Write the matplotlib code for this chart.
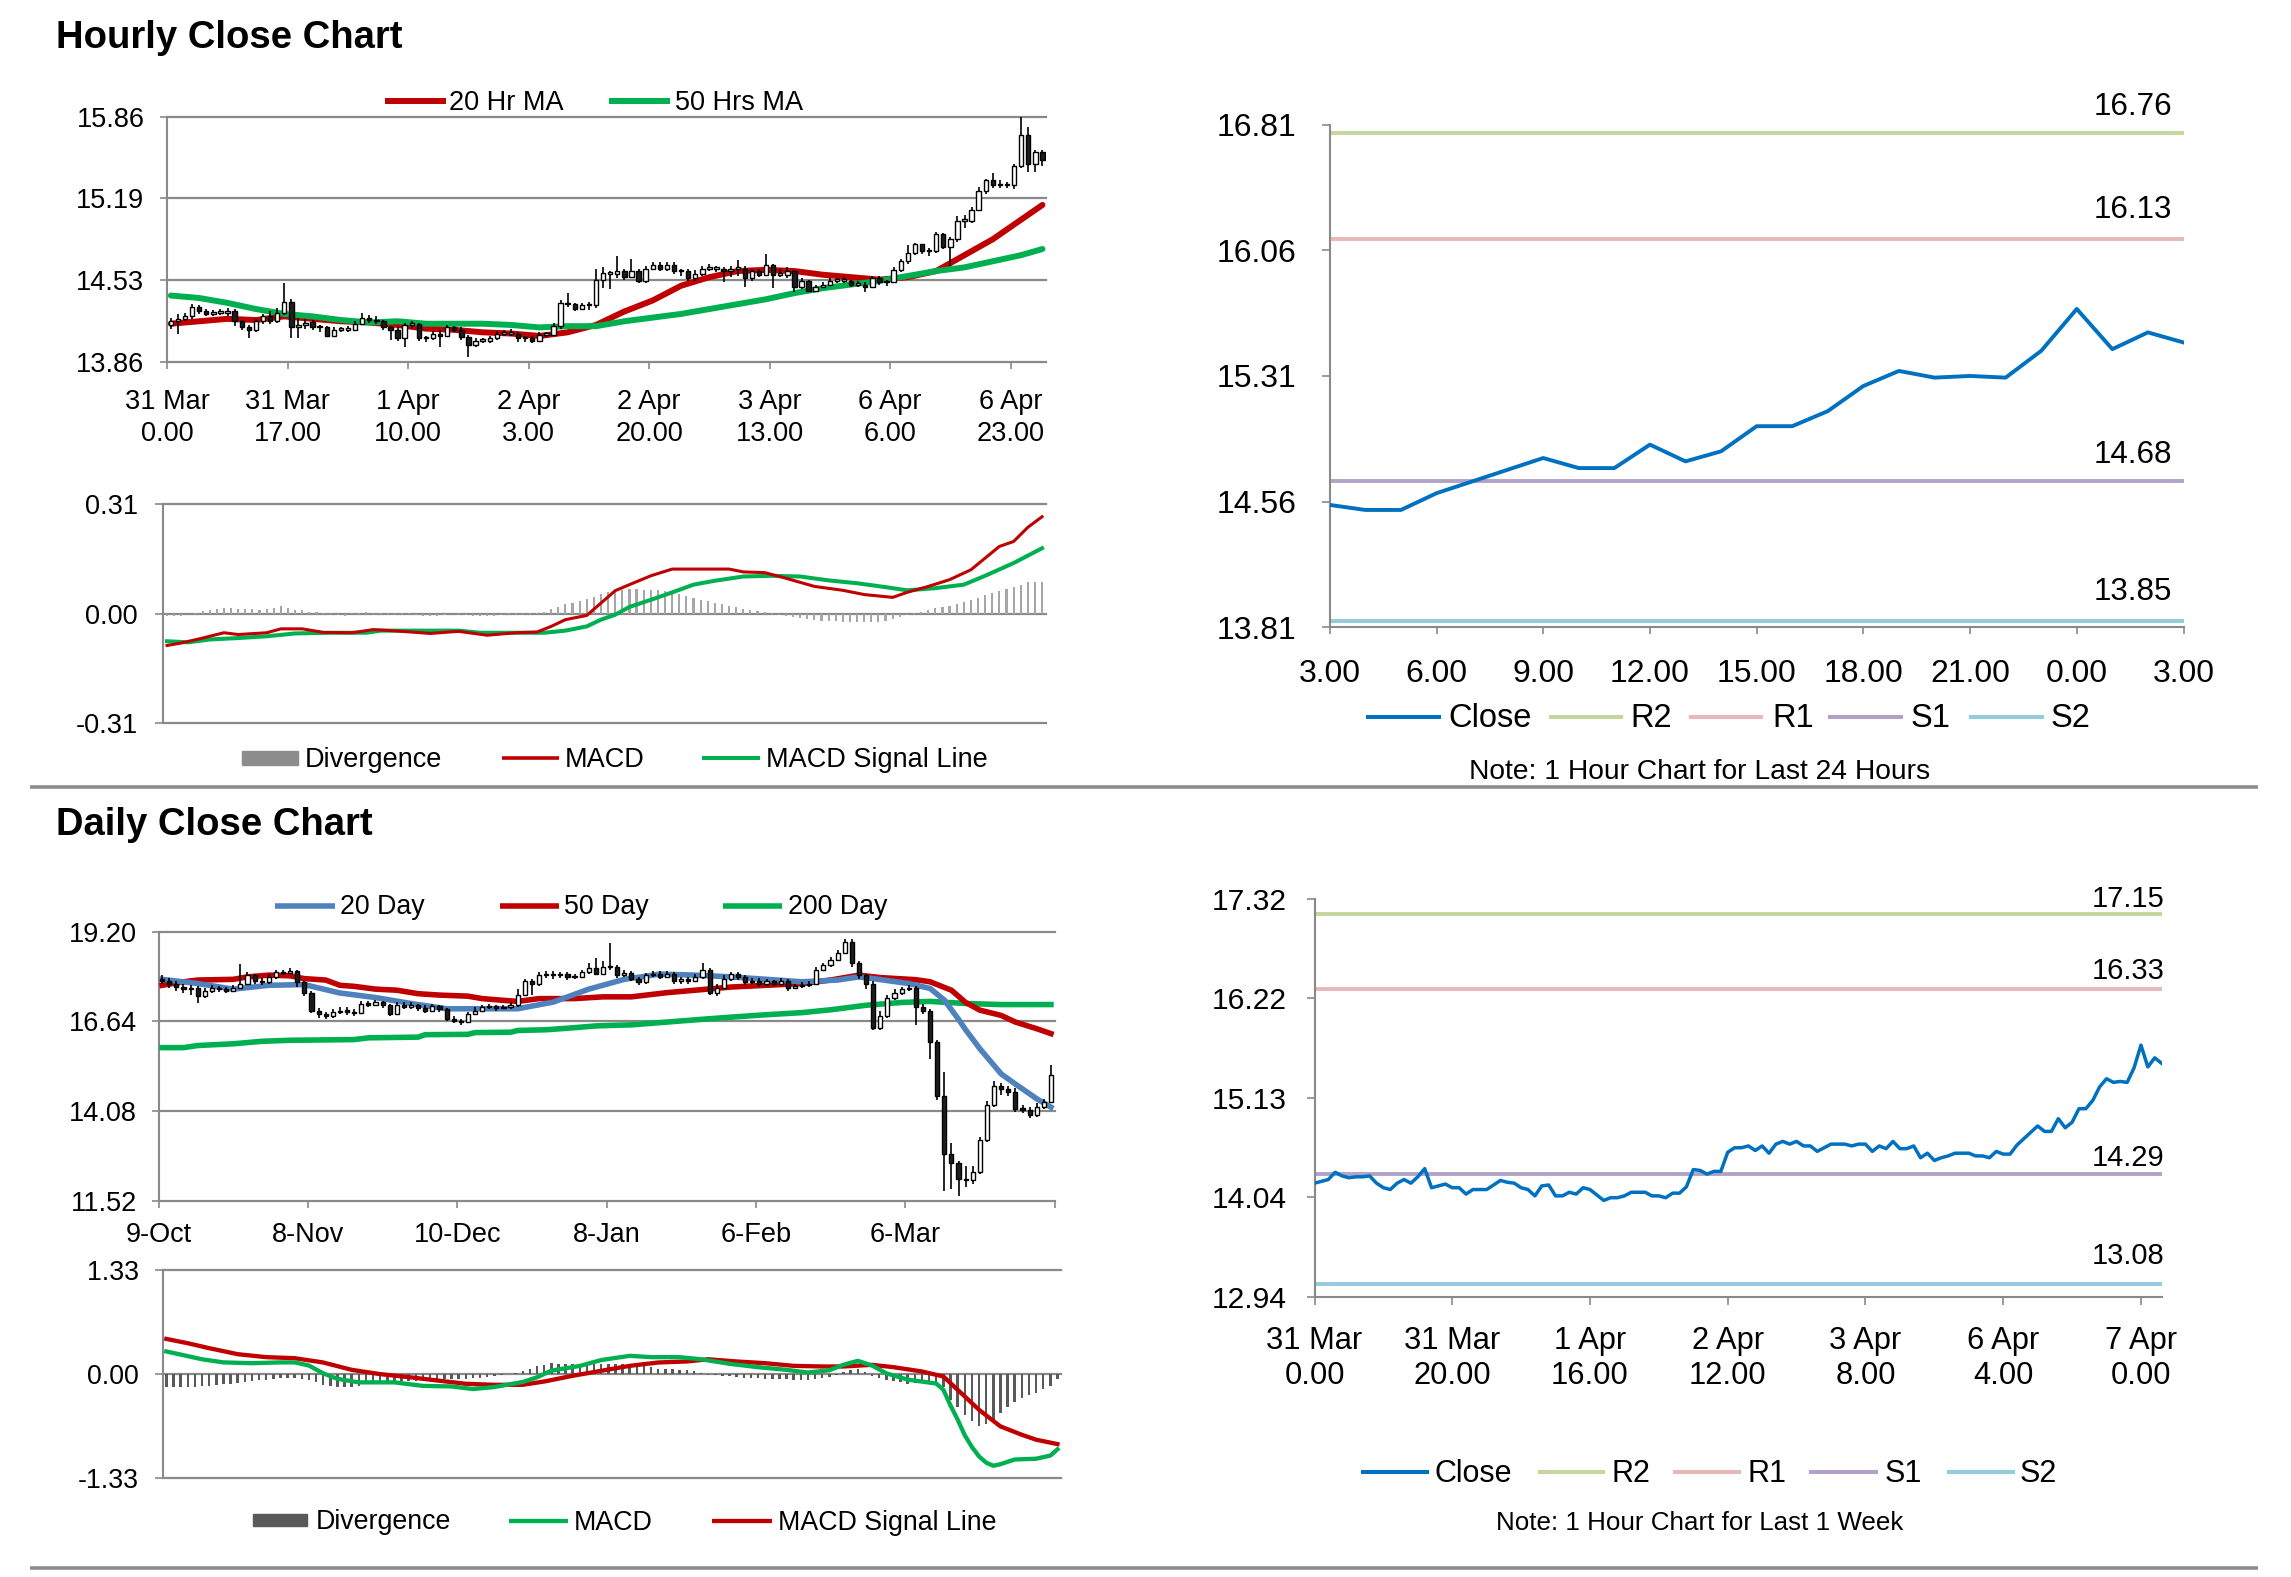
import numpy as np
import matplotlib
matplotlib.use("Agg")
import matplotlib.pyplot as plt

plt.rcParams['font.family'] = ['Liberation Sans', 'DejaVu Sans']

# ---------------- Hourly data (31 Mar 0.00 .. 7 Apr 3.00, 124 bars) ----------------
H_CLOSE = [
    14.19, 14.21, 14.23, 14.31, 14.27, 14.25, 14.26, 14.26, 14.27, 14.19,
    14.14, 14.12, 14.19, 14.23, 14.19, 14.26, 14.35, 14.14, 14.16, 14.18,
    14.14, 14.14, 14.07, 14.12, 14.12, 14.12, 14.17, 14.22, 14.20, 14.19,
    14.14, 14.12, 14.05, 14.16, 14.17, 14.05, 14.05, 14.09, 14.07, 14.14,
    14.12, 14.06, 14.00, 14.03, 14.03, 14.05, 14.09, 14.09, 14.09, 14.05,
    14.05, 14.03, 14.08, 14.08, 14.15, 14.34, 14.33, 14.29, 14.32, 14.32,
    14.53, 14.58, 14.58, 14.60, 14.55, 14.60, 14.52, 14.62, 14.65, 14.62,
    14.65, 14.60, 14.60, 14.54, 14.58, 14.62, 14.62, 14.62, 14.60, 14.62,
    14.62, 14.54, 14.60, 14.57, 14.65, 14.57, 14.57, 14.60, 14.47, 14.52,
    14.44, 14.47, 14.49, 14.52, 14.52, 14.52, 14.49, 14.49, 14.47, 14.54,
    14.51, 14.51, 14.61, 14.68, 14.75, 14.82, 14.76, 14.76, 14.90, 14.80,
    14.86, 15.01, 15.01, 15.10, 15.25, 15.34, 15.30, 15.31, 15.30, 15.46,
    15.71, 15.47, 15.57, 15.51]
H_FIRST_OPEN = 14.16
H_HIGH = [
    14.22, 14.25, 14.26, 14.33, 14.32, 14.29, 14.28, 14.29, 14.30, 14.29,
    14.20, 14.16, 14.21, 14.25, 14.27, 14.30, 14.50, 14.37, 14.22, 14.21,
    14.20, 14.16, 14.15, 14.14, 14.14, 14.15, 14.19, 14.26, 14.24, 14.23,
    14.20, 14.15, 14.14, 14.18, 14.19, 14.18, 14.07, 14.11, 14.12, 14.16,
    14.15, 14.14, 14.08, 14.05, 14.05, 14.07, 14.11, 14.12, 14.13, 14.10,
    14.07, 14.07, 14.10, 14.10, 14.18, 14.36, 14.42, 14.34, 14.34, 14.35,
    14.62, 14.63, 14.60, 14.72, 14.62, 14.70, 14.62, 14.64, 14.67, 14.67,
    14.67, 14.67, 14.62, 14.62, 14.61, 14.64, 14.66, 14.64, 14.63, 14.64,
    14.69, 14.64, 14.62, 14.62, 14.74, 14.66, 14.62, 14.63, 14.61, 14.54,
    14.53, 14.49, 14.51, 14.54, 14.54, 14.55, 14.53, 14.52, 14.51, 14.56,
    14.56, 14.53, 14.63, 14.70, 14.81, 14.83, 14.82, 14.79, 14.92, 14.91,
    14.88, 15.05, 15.06, 15.12, 15.29, 15.35, 15.40, 15.34, 15.33, 15.47,
    15.86, 15.78, 15.59, 15.59]
H_LOW = [
    14.13, 14.09, 14.19, 14.21, 14.25, 14.23, 14.23, 14.24, 14.23, 14.15,
    14.12, 14.05, 14.10, 14.17, 14.17, 14.18, 14.24, 14.05, 14.05, 14.13,
    14.12, 14.10, 14.06, 14.06, 14.10, 14.10, 14.11, 14.16, 14.18, 14.17,
    14.12, 14.04, 14.03, 13.98, 14.13, 14.03, 14.02, 14.04, 13.98, 14.06,
    14.10, 14.04, 13.90, 13.98, 14.01, 14.01, 14.04, 14.07, 14.07, 14.02,
    14.02, 14.01, 14.02, 14.06, 14.07, 14.13, 14.31, 14.27, 14.28, 14.28,
    14.30, 14.46, 14.45, 14.54, 14.53, 14.54, 14.50, 14.50, 14.61, 14.60,
    14.60, 14.58, 14.56, 14.52, 14.52, 14.56, 14.60, 14.59, 14.51, 14.55,
    14.56, 14.47, 14.52, 14.55, 14.56, 14.46, 14.55, 14.54, 14.43, 14.45,
    14.43, 14.43, 14.46, 14.48, 14.50, 14.50, 14.47, 14.47, 14.43, 14.46,
    14.49, 14.48, 14.50, 14.59, 14.66, 14.73, 14.74, 14.72, 14.75, 14.78,
    14.64, 14.84, 14.95, 14.99, 15.09, 15.23, 15.28, 15.28, 15.28, 15.27,
    15.44, 15.41, 15.41, 15.46]

H_MA_IDX = [0, 4, 8, 12, 16, 20, 24, 28, 32, 36, 40, 44, 48, 52, 56, 60,
            64, 68, 72, 76, 80, 84, 88, 92, 96, 100, 104, 108, 112, 116, 120, 123]
H_MA20 = [14.17, 14.19, 14.21, 14.20, 14.23, 14.21, 14.19, 14.18, 14.16, 14.13,
          14.12, 14.10, 14.09, 14.07, 14.10, 14.16, 14.27, 14.36, 14.48, 14.55,
          14.60, 14.61, 14.60, 14.57, 14.55, 14.53, 14.55, 14.60, 14.73, 14.86,
          15.02, 15.14]
H_MA50 = [14.40, 14.38, 14.34, 14.29, 14.25, 14.23, 14.20, 14.18, 14.19, 14.17,
          14.17, 14.17, 14.16, 14.14, 14.15, 14.15, 14.19, 14.22, 14.25, 14.29,
          14.33, 14.37, 14.42, 14.46, 14.49, 14.52, 14.56, 14.60, 14.63, 14.68,
          14.73, 14.78]

H_MACD_IDX = [0, 2, 5, 8, 10, 14, 16, 19, 22, 26, 29, 33, 37, 41, 45, 49, 52, 54,
              56, 59, 61, 63, 65, 68, 71, 75, 79, 81, 84, 87, 91, 95, 98, 102,
              104, 107, 110, 113, 117, 119, 121, 123]
H_MACD = [-0.090, -0.083, -0.069, -0.054, -0.059, -0.054, -0.043, -0.043, -0.053,
          -0.054, -0.045, -0.050, -0.056, -0.050, -0.061, -0.054, -0.052, -0.036,
          -0.017, -0.005, 0.030, 0.065, 0.082, 0.107, 0.126, 0.126, 0.126, 0.118,
          0.116, 0.100, 0.077, 0.066, 0.054, 0.046, 0.060, 0.077, 0.096, 0.124,
          0.190, 0.204, 0.244, 0.274]
H_SIG_IDX = [0, 3, 6, 10, 14, 18, 23, 28, 30, 36, 41, 44, 49, 53, 56, 59, 61, 63,
             65, 68, 71, 74, 77, 81, 85, 89, 93, 97, 101, 104, 108, 112, 115, 119, 123]
H_SIG = [-0.078, -0.081, -0.073, -0.069, -0.064, -0.056, -0.054, -0.054, -0.048,
         -0.048, -0.048, -0.054, -0.054, -0.054, -0.048, -0.036, -0.017, -0.003,
         0.019, 0.039, 0.060, 0.082, 0.093, 0.105, 0.107, 0.105, 0.094, 0.086,
         0.075, 0.066, 0.072, 0.082, 0.107, 0.143, 0.185]
H_DIV = [
    -0.008, -0.008, -0.006, -0.002, 0.003, 0.008, 0.011, 0.013, 0.015, 0.016,
    0.014, 0.013, 0.012, 0.011, 0.012, 0.016, 0.023, 0.015, 0.010, 0.009,
    0.006, 0.004, 0.003, 0.002, -0.005, -0.007, 0.002, 0.003, 0.004, 0.003,
    0.002, 0.002, 0.001, 0.002, 0.001, -0.004, -0.007, -0.007, -0.006, -0.004,
    -0.002, 0.001, -0.005, -0.007, -0.007, -0.006, -0.007, -0.004, 0.001, 0.002,
    0.002, 0.002, 0.003, 0.006, 0.012, 0.020, 0.027, 0.031, 0.036, 0.042,
    0.048, 0.055, 0.060, 0.064, 0.067, 0.069, 0.069, 0.068, 0.068, 0.066,
    0.063, 0.060, 0.055, 0.050, 0.045, 0.040, 0.035, 0.031, 0.027, 0.022,
    0.018, 0.014, 0.011, 0.007, 0.004, 0.001, -0.004, -0.007, -0.010, -0.013,
    -0.016, -0.018, -0.020, -0.021, -0.022, -0.023, -0.024, -0.024, -0.025, -0.025,
    -0.024, -0.022, -0.016, -0.010, -0.005, 0.002, 0.006, 0.010, 0.015, 0.019,
    0.023, 0.028, 0.033, 0.038, 0.044, 0.052, 0.058, 0.064, 0.070, 0.076,
    0.082, 0.089, 0.090, 0.089]

H_TICK_IDX = [0, 17, 34, 51, 68, 85, 102, 119]
H_TICK_LABELS = ['31 Mar\n0.00', '31 Mar\n17.00', '1 Apr\n10.00', '2 Apr\n3.00',
                 '2 Apr\n20.00', '3 Apr\n13.00', '6 Apr\n6.00', '6 Apr\n23.00']
H_YT = [13.86, 14.5267, 15.1933, 15.86]
H_YL = ['13.86', '14.53', '15.19', '15.86']
HM_YT = [-0.31, 0.0, 0.31]
HM_YL = ['-0.31', '0.00', '0.31']

# ---------------- Last 24 hours (top right) ----------------
TR_CLOSE = H_CLOSE[-25:]
TR_TICK_LABELS = ['3.00', '6.00', '9.00', '12.00', '15.00', '18.00', '21.00', '0.00', '3.00']
TR_YT = [13.81, 14.56, 15.31, 16.06, 16.81]
TR_YL = ['13.81', '14.56', '15.31', '16.06', '16.81']
LEVEL_NAMES = ['R2', 'R1', 'S1', 'S2']
TR_LEVELS = [16.76, 16.13, 14.68, 13.85]

# ---------------- Last 1 week (bottom right) ----------------
BR_TICK_IDX = [0, 20, 40, 60, 80, 100, 120]
BR_TICK_LABELS = ['31 Mar\n0.00', '31 Mar\n20.00', '1 Apr\n16.00', '2 Apr\n12.00',
                  '3 Apr\n8.00', '6 Apr\n4.00', '7 Apr\n0.00']
BR_YT = [12.94, 14.035, 15.13, 16.225, 17.32]
BR_YL = ['12.94', '14.04', '15.13', '16.22', '17.32']
BR_LEVELS = [17.15, 16.33, 14.29, 13.08]

# ---------------- Daily data (9 Oct .. , 126 bars) ----------------
D_CLOSE = [
    17.80, 17.70, 17.62, 17.55, 17.60, 17.35, 17.52, 17.58, 17.55, 17.52,
    17.60, 17.72, 17.95, 17.80, 17.75, 17.90, 18.05, 18.02, 18.08, 17.75,
    17.45, 16.95, 16.85, 16.80, 16.90, 16.95, 16.92, 16.88, 17.15, 17.12,
    17.18, 17.10, 16.85, 17.12, 17.05, 17.10, 17.02, 16.95, 17.08, 16.98,
    16.72, 16.65, 16.62, 16.85, 16.95, 17.05, 17.08, 17.02, 17.05, 17.10,
    17.40, 17.78, 17.70, 17.95, 18.00, 17.95, 17.98, 17.90, 17.92, 18.05,
    18.15, 18.00, 18.20, 18.18, 17.95, 18.02, 17.85, 17.75, 17.95, 18.00,
    17.92, 18.00, 17.78, 17.85, 17.80, 17.90, 18.10, 17.45, 17.60, 17.85,
    17.98, 17.90, 17.75, 17.80, 17.70, 17.78, 17.72, 17.80, 17.60, 17.65,
    17.68, 17.72, 18.12, 18.25, 18.40, 18.60, 18.92, 18.30, 17.95, 17.72,
    16.45, 16.80, 17.30, 17.45, 17.55, 17.60, 17.05, 16.95, 16.05, 14.50,
    12.85, 12.60, 12.15, 12.10, 12.35, 13.25, 14.25, 14.80, 14.70, 14.62,
    14.15, 14.12, 13.98, 14.20, 14.35, 15.10]
D_FIRST_OPEN = 17.85
D_HIGH = [
    17.95, 17.88, 17.78, 17.70, 17.68, 17.65, 17.60, 17.68, 17.65, 17.62,
    17.68, 18.29, 18.05, 18.00, 17.88, 17.98, 18.12, 18.12, 18.15, 18.12,
    17.80, 17.50, 17.02, 16.92, 16.98, 17.05, 17.05, 17.00, 17.22, 17.22,
    17.25, 17.22, 17.15, 17.18, 17.18, 17.18, 17.15, 17.10, 17.15, 17.12,
    17.02, 16.78, 16.72, 16.92, 17.05, 17.12, 17.15, 17.12, 17.12, 17.18,
    17.55, 17.85, 17.85, 18.05, 18.08, 18.08, 18.05, 18.05, 18.00, 18.12,
    18.30, 18.45, 18.35, 18.87, 18.25, 18.10, 18.08, 17.92, 18.02, 18.08,
    18.08, 18.08, 18.05, 17.92, 17.92, 17.98, 18.30, 18.15, 17.70, 17.95,
    18.05, 18.05, 17.95, 17.88, 17.88, 17.85, 17.82, 17.88, 17.85, 17.72,
    17.75, 17.80, 18.20, 18.32, 18.48, 18.68, 19.00, 18.98, 18.35, 18.00,
    17.80, 16.95, 17.40, 17.55, 17.62, 17.68, 17.65, 17.15, 17.00, 16.10,
    15.20, 13.18, 12.65, 12.50, 12.50, 13.35, 14.38, 14.95, 14.88, 14.80,
    14.75, 14.25, 14.20, 14.30, 14.42, 15.38]
D_LOW = [
    17.72, 17.60, 17.50, 17.45, 17.40, 17.17, 17.30, 17.45, 17.48, 17.45,
    17.48, 17.55, 17.68, 17.72, 17.68, 17.70, 17.85, 17.95, 17.98, 17.62,
    17.35, 16.88, 16.75, 16.72, 16.75, 16.85, 16.82, 16.78, 16.85, 17.05,
    17.08, 17.02, 16.78, 16.82, 16.98, 17.00, 16.95, 16.88, 16.90, 16.90,
    16.65, 16.58, 16.55, 16.60, 16.82, 16.92, 17.00, 16.95, 16.98, 17.00,
    17.05, 17.35, 17.40, 17.65, 17.88, 17.85, 17.88, 17.82, 17.85, 17.88,
    18.00, 17.95, 17.95, 18.10, 17.88, 17.90, 17.80, 17.68, 17.72, 17.90,
    17.85, 17.88, 17.70, 17.72, 17.72, 17.75, 17.85, 17.40, 17.35, 17.55,
    17.80, 17.82, 17.68, 17.70, 17.62, 17.65, 17.65, 17.68, 17.52, 17.55,
    17.60, 17.62, 17.68, 18.08, 18.20, 18.35, 18.55, 18.20, 17.85, 17.55,
    16.40, 16.40, 16.75, 17.25, 17.40, 17.50, 16.53, 16.85, 15.57, 14.40,
    11.80, 11.85, 11.65, 11.90, 12.00, 12.28, 13.20, 14.20, 14.55, 14.50,
    14.05, 14.02, 13.88, 13.92, 14.15, 14.30]

D_MA20_IDX = [0, 5, 10, 15, 20, 25, 30, 35, 40, 45, 50, 55, 60, 65, 70, 75, 80,
              85, 90, 95, 98, 100, 105, 108, 110, 112, 113, 115, 118, 120, 123, 125]
D_MA20 = [17.84, 17.72, 17.56, 17.67, 17.69, 17.45, 17.32, 17.15, 17.00, 17.00,
          17.00, 17.19, 17.56, 17.84, 17.99, 17.96, 17.91, 17.84, 17.77, 17.82,
          17.91, 17.86, 17.72, 17.58, 17.25, 16.70, 16.40, 15.86, 15.14, 14.85,
          14.43, 14.19]
D_MA50_IDX = [0, 3, 5, 10, 12, 15, 18, 20, 23, 25, 27, 30, 33, 36, 39, 43, 45, 48,
              50, 53, 58, 62, 66, 71, 75, 80, 85, 90, 94, 98, 101, 106, 108, 111,
              113, 115, 118, 120, 123, 125]
D_MA50 = [17.67, 17.77, 17.82, 17.84, 17.91, 17.96, 17.94, 17.86, 17.82, 17.67,
          17.64, 17.56, 17.53, 17.43, 17.39, 17.36, 17.29, 17.24, 17.21, 17.29,
          17.29, 17.34, 17.34, 17.46, 17.53, 17.62, 17.67, 17.72, 17.82, 17.96,
          17.89, 17.83, 17.77, 17.53, 17.18, 16.96, 16.81, 16.62, 16.43, 16.29]
D_MA200_IDX = [0, 3, 5, 10, 14, 18, 27, 29, 36, 37, 43, 44, 49, 50, 54, 58, 61,
               64, 66, 71, 76, 80, 85, 90, 94, 99, 104, 108, 113, 118, 125]
D_MA200 = [15.89, 15.89, 15.95, 16.00, 16.07, 16.10, 16.12, 16.17, 16.19, 16.26,
           16.27, 16.32, 16.33, 16.38, 16.40, 16.46, 16.51, 16.53, 16.54, 16.62,
           16.70, 16.76, 16.83, 16.89, 16.97, 17.10, 17.18, 17.21, 17.15, 17.12,
           17.12]

D_MACD_IDX = [0, 2, 5, 8, 12, 16, 18, 20, 22, 24, 27, 32, 36, 40, 43, 46, 50, 52,
              54, 58, 61, 65, 68, 72, 75, 79, 83, 87, 90, 93, 95, 97, 99, 101, 104,
              108, 109, 110, 111, 112, 113, 114, 115, 116, 117, 119, 122, 124, 125]
D_MACD = [0.29, 0.25, 0.19, 0.15, 0.14, 0.15, 0.15, 0.11, 0.01, -0.06, -0.105,
          -0.105, -0.15, -0.157, -0.19, -0.165, -0.10, -0.04, 0.045, 0.105, 0.18,
          0.234, 0.217, 0.217, 0.19, 0.132, 0.089, 0.055, 0.021, 0.05, 0.12, 0.17,
          0.11, 0.01, -0.07, -0.12, -0.20, -0.40, -0.58, -0.78, -0.93, -1.05,
          -1.13, -1.17, -1.15, -1.09, -1.08, -1.04, -0.96]
D_SIG_IDX = [0, 3, 6, 10, 14, 18, 22, 26, 30, 34, 38, 42, 46, 50, 53, 57, 61, 65,
             69, 73, 76, 80, 84, 88, 92, 95, 99, 102, 106, 109, 111, 114, 117, 120,
             122, 125]
D_SIG = [0.45, 0.395, 0.332, 0.255, 0.217, 0.204, 0.149, 0.055, 0.0, -0.038,
         -0.081, -0.123, -0.136, -0.136, -0.094, -0.021, 0.043, 0.106, 0.149,
         0.162, 0.19, 0.162, 0.14, 0.106, 0.098, 0.098, 0.119, 0.089, 0.034,
         -0.03, -0.20, -0.455, -0.667, -0.774, -0.837, -0.893]
D_DIV = [
    -0.16, -0.16, -0.165, -0.165, -0.16, -0.155, -0.15, -0.14, -0.13, -0.12,
    -0.115, -0.10, -0.09, -0.08, -0.07, -0.06, -0.055, -0.05, -0.055, -0.065,
    -0.075, -0.10, -0.136, -0.15, -0.164, -0.165, -0.16, -0.145, -0.13, -0.115,
    -0.106, -0.10, -0.095, -0.09, -0.09, -0.085, -0.08, -0.072, -0.067, -0.065,
    -0.065, -0.065, -0.065, -0.055, -0.045, -0.035, -0.024, -0.01, 0.005, 0.02,
    0.035, 0.07, 0.10, 0.12, 0.14, 0.135, 0.13, 0.128, 0.126, 0.128,
    0.13, 0.133, 0.135, 0.133, 0.13, 0.128, 0.115, 0.10, 0.085, 0.068,
    0.064, 0.06, 0.058, 0.055, 0.035, 0.015, -0.005, -0.013, -0.021, -0.029,
    -0.037, -0.043, -0.049, -0.055, -0.06, -0.063, -0.066, -0.068, -0.07, -0.07,
    -0.069, -0.068, -0.055, -0.04, -0.005, 0.032, 0.05, 0.065, 0.025, -0.02,
    -0.045, -0.07, -0.09, -0.105, -0.12, -0.115, -0.11, -0.11, -0.14, -0.17,
    -0.33, -0.42, -0.52, -0.60, -0.66, -0.64, -0.58, -0.50, -0.42, -0.36,
    -0.31, -0.27, -0.24, -0.19, -0.15, -0.06]

D_TICK_IDX = [0, 21, 42, 63, 84, 105, 126]
D_TICK_LABELS = ['9-Oct', '8-Nov', '10-Dec', '8-Jan', '6-Feb', '6-Mar', '']
D_YT = [11.52, 14.08, 16.64, 19.20]
D_YL = ['11.52', '14.08', '16.64', '19.20']
DM_YT = [-1.33, 0.0, 1.33]
DM_YL = ['-1.33', '0.00', '1.33']

# ---------------- styling ----------------
W, H = 2291, 1577
fig = plt.figure(figsize=(W / 100, H / 100), dpi=100)
fig.patch.set_facecolor('white')

GRID = '#898989'
RED = '#C00000'
GREEN = '#00B050'
BLUE = '#0070C0'
STEEL = '#4F81BD'
LEVEL_COLORS = ['#C3D69B', '#E6B9B8', '#B3A2C7', '#93CDDD']


def add_ax(x0, y0, x1, y1):
    ax = fig.add_axes([x0 / W, 1 - y1 / H, (x1 - x0) / W, (y1 - y0) / H])
    ax.set_facecolor('none')
    for s in ax.spines.values():
        s.set_visible(False)
    ax.spines['left'].set_visible(True)
    ax.spines['left'].set_color(GRID)
    ax.spines['left'].set_linewidth(1.5)
    return ax


def hgrid(ax, vals):
    for v in vals:
        ax.axhline(v, color=GRID, lw=1.6, zorder=0.5, clip_on=False)


def candles(ax, first_open, highs, lows, closes, width, min_h):
    c = np.asarray(closes, dtype=float)
    o = np.concatenate([[first_open], c[:-1]])
    x = np.arange(len(c))
    ax.vlines(x, lows, highs, color='black', lw=1.2, zorder=6)
    up = c >= o
    bot = np.minimum(o, c)
    hgt = np.maximum(np.abs(c - o), min_h)
    ax.bar(x[up], hgt[up], width=width, bottom=bot[up], color='white',
           edgecolor='black', linewidth=1.0, zorder=7)
    ax.bar(x[~up], hgt[~up], width=width, bottom=bot[~up], color='#1e1e1e',
           edgecolor='black', linewidth=1.0, zorder=7)


def yticks(ax, vals, labels, fs, pad, length):
    ax.set_yticks(vals)
    ax.set_yticklabels(labels)
    ax.tick_params(axis='y', labelsize=fs, pad=pad, length=length, width=1.2,
                   color=GRID, direction='out')


# ---- Top-left: hourly candles ----
ax1 = add_ax(167.3, 116.7, 1046, 361.7)
ax1.set_xlim(-0.5, 123.5)
ax1.set_ylim(13.86, 15.86)
hgrid(ax1, H_YT)
ax1.plot(H_MA_IDX, H_MA20, color=RED, lw=4.3, zorder=5, solid_capstyle='round')
ax1.plot(H_MA_IDX, H_MA50, color=GREEN, lw=4.3, zorder=5, solid_capstyle='round')
candles(ax1, H_FIRST_OPEN, H_HIGH, H_LOW, H_CLOSE, 0.62, 0.012)
yticks(ax1, H_YT, H_YL, 19.5, 11.5, 5)
ax1.set_xticks([k - 0.5 for k in H_TICK_IDX])
ax1.set_xticklabels(H_TICK_LABELS, linespacing=1.31)
ax1.tick_params(axis='x', labelsize=19.5, pad=14.5, length=5, width=1.2, color=GRID)

# ---- Top-left: hourly MACD ----
ax2 = add_ax(163.5, 504, 1045.6, 723.3)
ax2.set_xlim(-0.5, 123.5)
ax2.set_ylim(-0.31, 0.31)
hgrid(ax2, HM_YT)
ax2.bar(np.arange(len(H_DIV)), H_DIV, width=0.3, color='#A6A6A6', zorder=2)
ax2.plot(H_MACD_IDX, H_MACD, color=RED, lw=2.2, zorder=4)
ax2.plot(H_SIG_IDX, H_SIG, color=GREEN, lw=2.9, zorder=3)
yticks(ax2, HM_YT, HM_YL, 19.5, 12.5, 5.8)
ax2.set_xticks([])

# ---- Top-right: last 24 hours ----
ax3 = add_ax(1329.8, 124.7, 2183.5, 627.2)
ax3.spines['bottom'].set_visible(True)
ax3.spines['bottom'].set_color(GRID)
ax3.spines['bottom'].set_linewidth(1.5)
ax3.set_xlim(0, 24)
ax3.set_ylim(13.81, 16.81)
TR_X = np.arange(len(TR_CLOSE))
for lvl, col in zip(TR_LEVELS, LEVEL_COLORS):
    ax3.hlines(lvl, 0, 24, color=col, lw=2.8, zorder=2)
ax3.plot(TR_X, TR_CLOSE, color=BLUE, lw=2.8, zorder=3)
TR_DY = [26, 29, 26, 29]
for lvl, dy in zip(TR_LEVELS, TR_DY):
    ax3.annotate(f'{lvl:.2f}', xy=(24, lvl), xytext=(-11, dy), textcoords='offset pixels',
                 ha='right', va='center', fontsize=22.6, annotation_clip=False)
yticks(ax3, TR_YT, TR_YL, 23, 18.5, 5.8)
ax3.set_xticks(np.arange(0, 25, 3))
ax3.set_xticklabels(TR_TICK_LABELS)
ax3.tick_params(axis='x', labelsize=23, pad=18, length=5, width=1.2, color=GRID)

# ---- Bottom-left: daily candles ----
ax5 = add_ax(158.6, 931.7, 1054.5, 1200.7)
ax5.set_xlim(-0.5, 125.5)
ax5.set_ylim(11.52, 19.20)
hgrid(ax5, D_YT)
ax5.plot(D_MA200_IDX, D_MA200, color=GREEN, lw=4.0, zorder=5)
ax5.plot(D_MA50_IDX, D_MA50, color=RED, lw=4.0, zorder=5)
ax5.plot(D_MA20_IDX, D_MA20, color=STEEL, lw=4.0, zorder=5)
candles(ax5, D_FIRST_OPEN, D_HIGH, D_LOW, D_CLOSE, 0.58, 0.035)
yticks(ax5, D_YT, D_YL, 19.5, 10.5, 5)
ax5.set_xticks([k - 0.5 for k in D_TICK_IDX])
ax5.set_xticklabels(D_TICK_LABELS)
ax5.tick_params(axis='x', labelsize=19.5, pad=10.5, length=5, width=1.2, color=GRID)

# ---- Bottom-left: daily MACD ----
ax6 = add_ax(162.8, 1270, 1061, 1478.3)
ax6.set_xlim(-0.5, 125.5)
ax6.set_ylim(-1.33, 1.33)
hgrid(ax6, DM_YT)
ax6.bar(np.arange(len(D_DIV)), D_DIV, width=0.35, color='#595959', zorder=2)
ax6.plot(D_SIG_IDX, D_SIG, color=RED, lw=3.1, zorder=3)
ax6.plot(D_MACD_IDX, D_MACD, color=GREEN, lw=3.1, zorder=4)
yticks(ax6, DM_YT, DM_YL, 19.3, 11.5, 5.8)
ax6.set_xticks([])

# ---- Bottom-right: last 1 week ----
ax4 = add_ax(1314.5, 898.9, 2161.6, 1296.7)
ax4.spines['bottom'].set_visible(True)
ax4.spines['bottom'].set_color(GRID)
ax4.spines['bottom'].set_linewidth(1.5)
ax4.set_xlim(0, 123)
ax4.set_ylim(12.94, 17.32)
for lvl, col in zip(BR_LEVELS, LEVEL_COLORS):
    ax4.hlines(lvl, 0, 123, color=col, lw=2.8, zorder=2)
ax4.plot(np.arange(len(H_CLOSE)), H_CLOSE, color=BLUE, lw=2.5, zorder=3)
BR_DY = [15, 17.5, 16.5, 27.5]
for lvl, dy in zip(BR_LEVELS, BR_DY):
    ax4.annotate(f'{lvl:.2f}', xy=(123, lvl), xytext=(3, dy), textcoords='offset pixels',
                 ha='right', va='center', fontsize=21, annotation_clip=False)
yticks(ax4, BR_YT, BR_YL, 21.6, 14, 5.8)
ax4.set_xticks(BR_TICK_IDX)
ax4.set_xticklabels(BR_TICK_LABELS, linespacing=1.25)
ax4.tick_params(axis='x', labelsize=22.2, pad=15, length=5.8, width=1.2, color=GRID)

# ---------------- overlay: titles, legends, separators ----------------
ov = fig.add_axes([0, 0, 1, 1], zorder=10)
ov.set_xlim(0, W)
ov.set_ylim(H, 0)
ov.axis('off')

ov.plot([29.5, 2258], [786.5, 786.5], color='#8C8C8C', lw=2.6, solid_capstyle='butt')
ov.plot([29.5, 2258], [1568.3, 1568.3], color='#8C8C8C', lw=2.6, solid_capstyle='butt')

ov.text(56, 48.5, 'Hourly Close Chart', fontsize=27.5, fontweight='bold', va='baseline', ha='left')
ov.text(56, 835, 'Daily Close Chart', fontsize=27.5, fontweight='bold', va='baseline', ha='left')

TXT_DY = 3  # small downward shift of legend text relative to its sample


def leg_line(x0, x1, y, color, lw, label, tx, fs):
    ov.plot([x0, x1], [y, y], color=color, lw=lw, solid_capstyle='butt')
    ov.text(tx, y + TXT_DY - 1, label, fontsize=fs, va='center', ha='left')


def leg_patch(x0, x1, y0, y1, color, label, tx, fs):
    ov.add_patch(plt.Rectangle((x0, y0), x1 - x0, y1 - y0, color=color))
    ov.text(tx, (y0 + y1) / 2 + TXT_DY - 1, label, fontsize=fs, va='center', ha='left')


# top-left legends
leg_line(384.6, 445.6, 100.5, RED, 4.3, '20 Hr MA', 449, 19.5)
leg_line(609, 670, 100.5, GREEN, 4.3, '50 Hrs MA', 675, 19.5)
leg_patch(242, 298, 750.5, 765, '#8C8C8C', 'Divergence', 305, 19.5)
leg_line(501.8, 559.3, 758, RED, 2.6, 'MACD', 565, 19.5)
leg_line(701.8, 760, 758, GREEN, 2.9, 'MACD Signal Line', 766, 19.5)

# top-right legend
TR_LEG = [(1366, 1441, BLUE, 'Close', 1448), (1549, 1623, LEVEL_COLORS[0], 'R2', 1630),
          (1688.6, 1763, LEVEL_COLORS[1], 'R1', 1772), (1828, 1903, LEVEL_COLORS[2], 'S1', 1910.6),
          (1969, 2044, LEVEL_COLORS[3], 'S2', 2051)]
for x0, x1, col, lab, tx in TR_LEG:
    leg_line(x0, x1, 716.5, col, 2.9, lab, tx, 23.5)
ov.text(1700, 772, 'Note: 1 Hour Chart for Last 24 Hours', fontsize=20.3, ha='center', va='center')

# bottom-left legends
leg_line(275, 335, 905.5, STEEL, 4.0, '20 Day', 339.6, 19.3)
leg_line(500, 559, 905.5, RED, 4.0, '50 Day', 563.5, 19.3)
leg_line(723, 782, 905.5, GREEN, 4.0, '200 Day', 788, 19.3)
leg_patch(252.6, 307.4, 1513.5, 1526.3, '#595959', 'Divergence', 315.8, 19.3)
leg_line(508.8, 568.4, 1521, GREEN, 3.1, 'MACD', 574, 19.3)
leg_line(712, 772, 1521, RED, 3.1, 'MACD Signal Line', 777.5, 19.3)

# bottom-right legend
BR_LEG = [(1361, 1429, BLUE, 'Close', 1435), (1538, 1605, LEVEL_COLORS[0], 'R2', 1612),
          (1672.6, 1741, LEVEL_COLORS[1], 'R1', 1748), (1809, 1878, LEVEL_COLORS[2], 'S1', 1885),
          (1947, 2014.6, LEVEL_COLORS[3], 'S2', 2019.7)]
for x0, x1, col, lab, tx in BR_LEG:
    leg_line(x0, x1, 1472, col, 2.9, lab, tx, 22)
ov.text(1700, 1523, 'Note: 1 Hour Chart for Last 1 Week', fontsize=18.7, ha='center', va='center')

fig.savefig('out.png', dpi=100, facecolor='white')
